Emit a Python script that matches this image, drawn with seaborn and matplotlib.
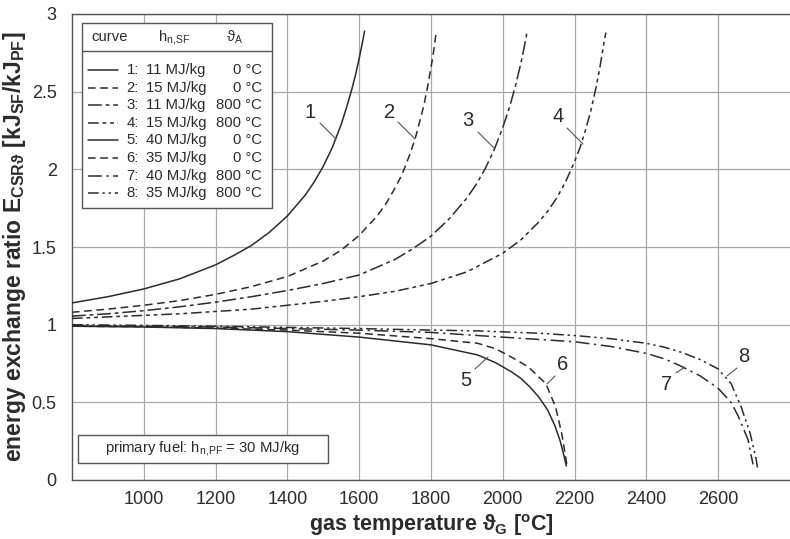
import matplotlib
matplotlib.use("Agg")
import matplotlib.pyplot as plt
import pandas as pd
import seaborn as sns
from matplotlib.patches import Rectangle
from matplotlib.lines import Line2D
from matplotlib.ticker import FixedLocator

# ---- data ----
T1 = [800, 900, 1000, 1100, 1200, 1250, 1300, 1350, 1400, 1450, 1475, 1500, 1525, 1550, 1565, 1580, 1590, 1600, 1608, 1615]
E1 = [1.14, 1.18, 1.23, 1.295, 1.385, 1.445, 1.51, 1.595, 1.70, 1.835, 1.92, 2.02, 2.14, 2.29, 2.40, 2.52, 2.61, 2.715, 2.805, 2.89]

T2 = [800, 900, 1000, 1100, 1200, 1300, 1400, 1500, 1550, 1600, 1650, 1675, 1700, 1720, 1740, 1755, 1770, 1780, 1790, 1800, 1808, 1815]
E2 = [1.08, 1.10, 1.125, 1.155, 1.195, 1.245, 1.31, 1.41, 1.48, 1.575, 1.70, 1.78, 1.88, 1.97, 2.09, 2.19, 2.32, 2.41, 2.525, 2.655, 2.77, 2.89]

T3 = [800, 900, 1000, 1100, 1200, 1300, 1400, 1500, 1600, 1700, 1750, 1800, 1850, 1900, 1925, 1950, 1975, 2000, 2020, 2035, 2050, 2060, 2068]
E3 = [1.055, 1.07, 1.09, 1.115, 1.145, 1.18, 1.22, 1.265, 1.32, 1.42, 1.49, 1.57, 1.68, 1.815, 1.90, 2.00, 2.12, 2.27, 2.41, 2.535, 2.68, 2.79, 2.89]

T4 = [800, 900, 1000, 1100, 1200, 1300, 1400, 1500, 1600, 1700, 1800, 1900, 2000, 2050, 2100, 2125, 2150, 2175, 2200, 2215, 2230, 2245, 2260, 2270, 2280, 2287]
E4 = [1.04, 1.05, 1.06, 1.07, 1.085, 1.10, 1.125, 1.15, 1.18, 1.215, 1.265, 1.34, 1.46, 1.545, 1.66, 1.73, 1.815, 1.92, 2.05, 2.14, 2.25, 2.375, 2.53, 2.65, 2.79, 2.88]

T5 = [800, 1000, 1200, 1400, 1600, 1800, 1930, 1980, 2025, 2050, 2075, 2100, 2125, 2145, 2160, 2170, 2177]
E5 = [0.99, 0.985, 0.975, 0.955, 0.92, 0.87, 0.805, 0.755, 0.695, 0.655, 0.60, 0.535, 0.45, 0.35, 0.25, 0.16, 0.09]

T6 = [800, 1000, 1200, 1400, 1600, 1800, 1930, 1980, 2025, 2070, 2120, 2147, 2164, 2175, 2179]
E6 = [0.99, 0.987, 0.978, 0.965, 0.945, 0.91, 0.88, 0.845, 0.79, 0.73, 0.62, 0.47, 0.30, 0.15, 0.09]

T7 = [800, 1200, 1600, 1800, 1930, 2100, 2200, 2300, 2400, 2450, 2490, 2550, 2600, 2636, 2656, 2683, 2697]
E7 = [0.995, 0.985, 0.965, 0.95, 0.93, 0.905, 0.89, 0.86, 0.815, 0.78, 0.74, 0.67, 0.59, 0.50, 0.41, 0.26, 0.10]

T8 = [800, 1200, 1600, 1800, 1930, 2100, 2200, 2300, 2400, 2450, 2500, 2550, 2600, 2636, 2664, 2689, 2706, 2710]
E8 = [1.0, 0.99, 0.975, 0.965, 0.96, 0.945, 0.93, 0.91, 0.88, 0.855, 0.82, 0.775, 0.715, 0.62, 0.47, 0.30, 0.13, 0.07]

curve_ids = ["1", "2", "3", "4", "5", "6", "7", "8"]
heating_values = ["11 MJ/kg", "15 MJ/kg", "11 MJ/kg", "15 MJ/kg", "40 MJ/kg", "35 MJ/kg", "40 MJ/kg", "35 MJ/kg"]
air_temps = ["0 °C", "0 °C", "800 °C", "800 °C", "0 °C", "0 °C", "800 °C", "800 °C"]
x_ticks = [1000, 1200, 1400, 1600, 1800, 2000, 2200, 2400, 2600]
y_ticks = [0, 0.5, 1, 1.5, 2, 2.5, 3]
y_tick_labels = ["0", "0.5", "1", "1.5", "2", "2.5", "3"]

# ---- style ----
sns.set_theme(style="white")
plt.rcParams['font.family'] = ['Liberation Sans', 'DejaVu Sans']
plt.rcParams['mathtext.fontset'] = 'custom'
plt.rcParams['mathtext.rm'] = 'Liberation Sans'
plt.rcParams['mathtext.bf'] = 'Liberation Sans:bold'
plt.rcParams['mathtext.it'] = 'Liberation Sans:italic'

INK = "#2b2b2b"
GRID = "#a8a8a8"
LEG_FS = 10.7

dash_styles = {
    "1": "", "2": (5, 3), "3": (9, 2.5, 2.5, 2.5), "4": (7, 2.5, 2.5, 2.5, 2.5, 2.5),
    "5": "", "6": (5, 3), "7": (9, 3, 1.5, 3), "8": (7, 2.5, 1.5, 2.5, 1.5, 2.5),
}

frames = []
for cid, T, E in zip(curve_ids, [T1, T2, T3, T4, T5, T6, T7, T8],
                     [E1, E2, E3, E4, E5, E6, E7, E8]):
    frames.append(pd.DataFrame({"T": T, "E": E, "curve": cid}))
df = pd.concat(frames, ignore_index=True)

fig = plt.figure(figsize=(7.9, 5.39), dpi=100)
ax = fig.add_axes([72 / 790, 59 / 539, 718 / 790, 466 / 539])

sns.lineplot(data=df, x="T", y="E", hue="curve", style="curve",
             palette={c: INK for c in curve_ids}, dashes=dash_styles,
             estimator=None, sort=False, legend=False, lw=1.1, ax=ax, zorder=3)

ax.set_xlim(800, 2800)
ax.set_ylim(0, 3)
ax.xaxis.set_major_locator(FixedLocator(x_ticks))
ax.xaxis.set_minor_locator(FixedLocator([900, 1100, 1300, 1500, 1700, 1900, 2100, 2300, 2500, 2700]))
ax.yaxis.set_major_locator(FixedLocator(y_ticks))
ax.set_yticklabels(y_tick_labels)
ax.yaxis.set_minor_locator(FixedLocator([0.25, 0.75, 1.25, 1.75, 2.25, 2.75]))
ax.grid(True, which="major", color=GRID, lw=0.9)
ax.tick_params(axis="both", which="major", direction="in", length=0, labelsize=13,
               labelcolor=INK, pad=8)
ax.tick_params(axis="both", which="minor", direction="in", length=4, width=0.8, color="#777777")
ax.tick_params(axis="y", which="major", pad=11)

for s in ["left", "bottom", "top"]:
    ax.spines[s].set_color("#555555")
    ax.spines[s].set_linewidth(1.0)
ax.spines["right"].set_visible(False)

ax.set_xlabel(r"gas temperature ϑ$_\mathbf{G}$ [$^\mathbf{o}$C]", fontsize=15.5,
              fontweight="bold", color=INK, labelpad=3)
ax.set_ylabel(r"energy exchange ratio E$_\mathbf{CSRϑ}$ [kJ$_\mathbf{SF}$/kJ$_\mathbf{PF}$]",
              fontsize=16.5, fontweight="bold", color=INK, labelpad=3)

# ---- curve labels with leader lines ----
def px2ax(x, y):
    return ((x - 72) / 718, (480 - y) / 466)

labels = [
    ("1", (310, 113), (320, 123), (336, 139)),
    ("2", (390, 112), (398, 122), (415, 139)),
    ("3", (468, 120), (478, 132), (494, 148)),
    ("4", (558, 117), (567, 128), (583, 144)),
    ("5", (466, 381), (475, 369), (488, 357)),
    ("6", (563, 365), (555, 376), (547, 384)),
    ("7", (667, 385), (676, 373), (685, 367)),
    ("8", (744, 356), (737, 368), (727, 376)),
]
for txt, tp, l0, l1 in labels:
    ax.text(*px2ax(*tp), txt, transform=ax.transAxes, fontsize=14.5, color=INK,
            ha="center", va="center", zorder=5)
    a0 = px2ax(*l0); a1 = px2ax(*l1)
    ax.add_line(Line2D([a0[0], a1[0]], [a0[1], a1[1]], transform=ax.transAxes,
                       color="#555555", lw=0.8, zorder=5))

# ---- legend table ----
bx0, by0 = px2ax(82, 208)
bx1, by1 = px2ax(272, 23)
ax.add_patch(Rectangle((bx0, by0), bx1 - bx0, by1 - by0, transform=ax.transAxes,
                       facecolor="white", edgecolor="#555555", lw=1.0, zorder=6))
sy = px2ax(0, 51)[1]
ax.add_line(Line2D([bx0, bx1], [sy, sy], transform=ax.transAxes, color="#555555", lw=1.0, zorder=7))
hy = px2ax(0, 37)[1]
ax.text(px2ax(91, 0)[0], hy, "curve", transform=ax.transAxes, fontsize=LEG_FS, color=INK,
        ha="left", va="center", zorder=7)
ax.text(px2ax(158, 0)[0], hy, r"h$_\mathrm{n{,}SF}$", transform=ax.transAxes, fontsize=LEG_FS,
        color=INK, ha="left", va="center", zorder=7)
ax.text(px2ax(226, 0)[0], hy, r"ϑ$_\mathrm{A}$", transform=ax.transAxes, fontsize=LEG_FS,
        color=INK, ha="left", va="center", zorder=7)
for i, cid in enumerate(curve_ids):
    ry = px2ax(0, 70 + i * 17.6)[1]
    l0 = px2ax(88, 0)[0]; l1 = px2ax(118, 0)[0]
    ls = dash_styles[cid]
    ln = Line2D([l0, l1], [ry, ry], transform=ax.transAxes, color=INK, lw=1.1, zorder=7)
    if ls:
        ln.set_dashes(ls)
    ax.add_line(ln)
    ax.text(px2ax(139, 0)[0], ry, cid + ":", transform=ax.transAxes, fontsize=LEG_FS,
            color=INK, ha="right", va="center", zorder=7)
    ax.text(px2ax(146, 0)[0], ry, heating_values[i], transform=ax.transAxes, fontsize=LEG_FS,
            color=INK, ha="left", va="center", zorder=7)
    ax.text(px2ax(262, 0)[0], ry, air_temps[i], transform=ax.transAxes, fontsize=LEG_FS,
            color=INK, ha="right", va="center", zorder=7)

# ---- primary fuel box ----
px0, py0 = px2ax(78, 463)
px1, py1 = px2ax(328, 435)
ax.add_patch(Rectangle((px0, py0), px1 - px0, py1 - py0, transform=ax.transAxes,
                       facecolor="white", edgecolor="#555555", lw=1.0, zorder=6))
ax.text((px0 + px1) / 2, (py0 + py1) / 2, r"primary fuel: h$_\mathrm{n{,}PF}$ = 30 MJ/kg",
        transform=ax.transAxes, fontsize=LEG_FS, color=INK, ha="center", va="center", zorder=7)

fig.savefig("out.png", dpi=100)
